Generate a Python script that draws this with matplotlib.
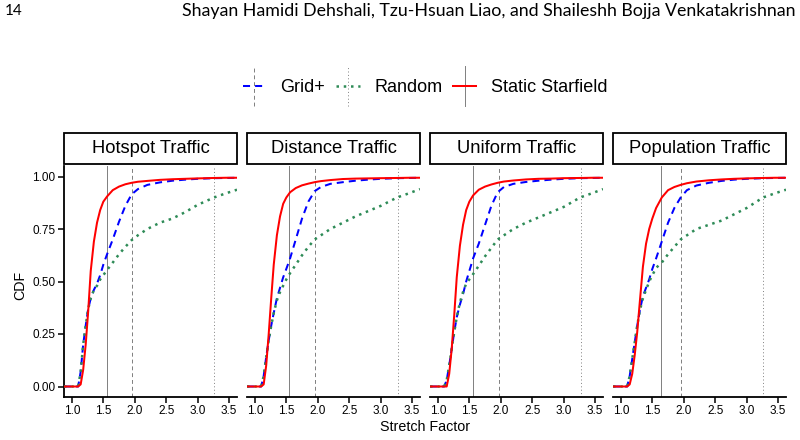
import numpy as np
import matplotlib
matplotlib.use("Agg")
import matplotlib.pyplot as plt
from matplotlib.lines import Line2D
from matplotlib.patches import Rectangle
from matplotlib.legend_handler import HandlerBase

plt.rcParams['font.family'] = ['Liberation Sans', 'DejaVu Sans']

# ---- data ----
panels = ["Hotspot Traffic", "Distance Traffic", "Uniform Traffic", "Population Traffic"]
series = ["Grid+", "Random", "Static Starfield"]

# common stretch-factor grid for all curves
x = [0.875, 1.10, 1.14, 1.18, 1.22, 1.26, 1.30, 1.35, 1.40, 1.45, 1.50, 1.56, 1.65,
     1.75, 1.85, 1.95, 2.05, 2.2, 2.4, 2.6, 2.8, 3.0, 3.26, 3.45, 3.625]

grid_cdf = [
    [0, 0, 0.07, 0.20, 0.29, 0.37, 0.42, 0.46, 0.49, 0.53, 0.58, 0.63, 0.70, 0.785, 0.86, 0.915, 0.94, 0.96, 0.972, 0.98, 0.985, 0.989, 0.992, 0.993, 0.994],
    [0, 0, 0.05, 0.14, 0.22, 0.29, 0.35, 0.42, 0.47, 0.52, 0.56, 0.61, 0.70, 0.80, 0.88, 0.93, 0.95, 0.965, 0.973, 0.98, 0.985, 0.989, 0.992, 0.993, 0.994],
    [0, 0, 0.03, 0.10, 0.18, 0.26, 0.33, 0.39, 0.44, 0.50, 0.55, 0.61, 0.68, 0.77, 0.86, 0.925, 0.95, 0.965, 0.974, 0.98, 0.985, 0.989, 0.992, 0.993, 0.994],
    [0, 0, 0.05, 0.13, 0.21, 0.29, 0.36, 0.43, 0.47, 0.51, 0.56, 0.61, 0.69, 0.78, 0.85, 0.90, 0.935, 0.957, 0.97, 0.979, 0.985, 0.989, 0.992, 0.993, 0.994],
]
random_cdf = [
    [0, 0, 0.07, 0.20, 0.29, 0.37, 0.42, 0.46, 0.48, 0.51, 0.53, 0.555, 0.59, 0.63, 0.665, 0.697, 0.72, 0.75, 0.78, 0.80, 0.83, 0.865, 0.90, 0.92, 0.937],
    [0, 0, 0.05, 0.14, 0.22, 0.29, 0.35, 0.41, 0.45, 0.48, 0.51, 0.54, 0.58, 0.625, 0.665, 0.70, 0.72, 0.75, 0.78, 0.81, 0.835, 0.86, 0.90, 0.92, 0.94],
    [0, 0, 0.03, 0.10, 0.18, 0.26, 0.33, 0.40, 0.45, 0.49, 0.51, 0.535, 0.575, 0.62, 0.66, 0.70, 0.72, 0.75, 0.78, 0.805, 0.83, 0.855, 0.90, 0.92, 0.94],
    [0, 0, 0.05, 0.13, 0.21, 0.29, 0.36, 0.42, 0.46, 0.50, 0.53, 0.565, 0.59, 0.63, 0.665, 0.70, 0.72, 0.75, 0.77, 0.79, 0.82, 0.85, 0.90, 0.92, 0.937],
]
static_cdf = [
    [0, 0, 0.01, 0.08, 0.20, 0.36, 0.55, 0.69, 0.78, 0.84, 0.88, 0.905, 0.935, 0.952, 0.963, 0.970, 0.975, 0.979, 0.984, 0.987, 0.989, 0.991, 0.993, 0.994, 0.994],
    [0, 0, 0.01, 0.10, 0.25, 0.42, 0.58, 0.72, 0.81, 0.87, 0.90, 0.925, 0.945, 0.958, 0.966, 0.973, 0.978, 0.983, 0.988, 0.99, 0.991, 0.992, 0.993, 0.994, 0.994],
    [0, 0, 0, 0.06, 0.18, 0.34, 0.52, 0.67, 0.77, 0.84, 0.88, 0.91, 0.937, 0.952, 0.962, 0.97, 0.976, 0.981, 0.986, 0.989, 0.99, 0.992, 0.993, 0.994, 0.994],
    [0, 0, 0.01, 0.06, 0.15, 0.26, 0.40, 0.57, 0.68, 0.75, 0.80, 0.85, 0.90, 0.935, 0.95, 0.96, 0.968, 0.976, 0.982, 0.986, 0.989, 0.991, 0.993, 0.994, 0.994],
]

# 90th percentile markers per panel
p90_static = [1.555, 1.535, 1.56, 1.645]
p90_grid = [1.95, 1.96, 1.965, 1.95]
p90_random = [3.26, 3.27, 3.27, 3.26]

xticks = [1.0, 1.5, 2.0, 2.5, 3.0, 3.5]
yticks = [0.0, 0.25, 0.5, 0.75, 1.0]

colors = {"Grid+": "#0000FF", "Random": "#2E8B57", "Static Starfield": "#FF0000"}
styles = {"Grid+": (0, (3.5, 2.5)), "Random": (0, (1, 1.9)), "Static Starfield": "-"}
widths = {"Grid+": 1.45, "Random": 1.8, "Static Starfield": 1.45}
vstyles = {"Grid+": (0, (4, 3)), "Random": (0, (1, 2.5)), "Static Starfield": "-"}


class Key:
    def __init__(self, name):
        self.name = name

    def get_label(self):
        return self.name


class KeyHandler(HandlerBase):
    def create_artists(self, legend, h, xd, yd, w, hgt, fs, trans):
        ym = hgt / 2 - yd
        vl = Line2D([w / 2 - xd] * 2, [ym - 1.6 * hgt, ym + 1.6 * hgt], color="#7f7f7f",
                    ls=vstyles[h.name], lw=0.7)
        hl = Line2D([-xd, w - xd], [ym, ym], color=colors[h.name], ls=styles[h.name],
                    lw=widths[h.name])
        vl.set_transform(trans)
        hl.set_transform(trans)
        return [vl, hl]


fig, axes = plt.subplots(1, 4, figsize=(8, 4.4), dpi=100, sharey=True)
fig.subplots_adjust(left=64 / 800, right=786 / 800, bottom=43 / 440, top=274 / 440, wspace=0.058)

data = {"Grid+": grid_cdf, "Random": random_cdf, "Static Starfield": static_cdf}
p90 = {"Grid+": p90_grid, "Random": p90_random, "Static Starfield": p90_static}

for i, ax in enumerate(axes):
    for s in series:
        ax.axvline(p90[s][i], color="#7f7f7f", lw=0.7, ls=vstyles[s], zorder=1)
    for s in series:
        ax.plot(x, data[s][i], color=colors[s], ls=styles[s], lw=widths[s], zorder=3)
    ax.set_xlim(0.875, 3.625)
    ax.set_ylim(-0.05, 1.05)
    ax.set_xticks(xticks)
    ax.set_xticklabels(["%.1f" % t for t in xticks])
    ax.set_yticks(yticks)
    ax.set_yticklabels(["%.2f" % t for t in yticks])
    for sp in ["top", "right"]:
        ax.spines[sp].set_visible(False)
    ax.spines["bottom"].set_linewidth(1.3)
    ax.spines["left"].set_linewidth(1.3)
    ax.tick_params(length=4, width=1.1, labelsize=8.5, pad=2, colors="black")
    if i > 0:
        ax.spines["left"].set_visible(False)
        ax.tick_params(axis="y", left=False, labelleft=False)
    # facet strip
    ax.add_patch(Rectangle((0, 1 + 2 / 231), 1, 31 / 231, transform=ax.transAxes,
                           facecolor="white", edgecolor="black", lw=1.3, clip_on=False))
    ax.text(0.5, 1 + 17.5 / 231, panels[i], transform=ax.transAxes, ha="center",
            va="center", fontsize=13.2)

fig.text(20 / 800, 1 - 285 / 440, "CDF", rotation=90, ha="center", va="center", fontsize=10.3)
fig.text(425 / 800, 1 - 427 / 440, "Stretch Factor", ha="center", va="center", fontsize=10.3)

handles = [Key(s) for s in series]
fig.legend(handles, series, handler_map={Key: KeyHandler()}, loc="center",
           bbox_to_anchor=(425 / 800, 1 - 88 / 440), ncol=3, frameon=False, fontsize=13,
           handlelength=1.3, handletextpad=0.8, columnspacing=0.6)

# page header
fig.text(5 / 800, 1 - 11 / 440, "14", ha="left", va="center", fontsize=11,
         family=["Lato", "DejaVu Sans"])
fig.text(795 / 800, 1 - 11 / 440,
         "Shayan Hamidi Dehshali, Tzu-Hsuan Liao, and Shaileshh Bojja Venkatakrishnan",
         ha="right", va="center", fontsize=12.8, family=["Lato", "DejaVu Sans"])

fig.savefig("out.png", dpi=100)
